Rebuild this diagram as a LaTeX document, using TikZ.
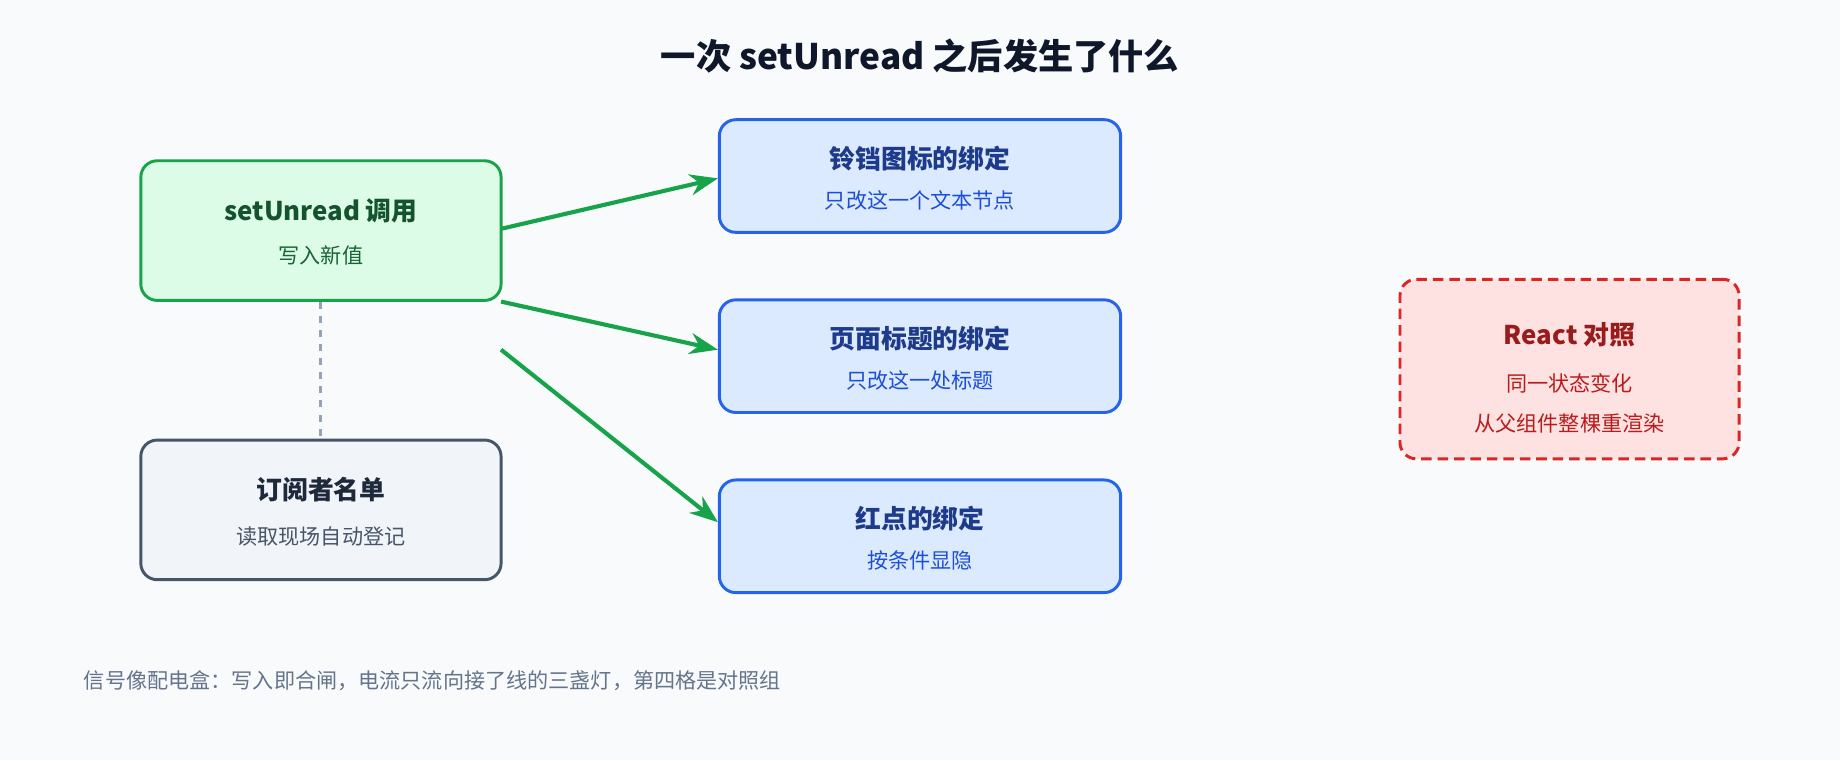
\documentclass[tikz,border=0pt]{standalone}
\usepackage{fontspec}
\setmainfont{Noto Sans CJK SC}
\usetikzlibrary{arrows.meta,positioning}
\definecolor{bgc}{HTML}{F8FAFC}
\definecolor{ink}{HTML}{0F172A}
\definecolor{gfill}{HTML}{DCFCE7}
\definecolor{gline}{HTML}{16A34A}
\definecolor{gtext}{HTML}{14532D}
\definecolor{gsub}{HTML}{166534}
\definecolor{sfill}{HTML}{F1F5F9}
\definecolor{sline}{HTML}{475569}
\definecolor{stext}{HTML}{1E293B}
\definecolor{bfill}{HTML}{DBEAFE}
\definecolor{bline}{HTML}{2563EB}
\definecolor{btext}{HTML}{1E3A8A}
\definecolor{bsub}{HTML}{1D4ED8}
\definecolor{rfill}{HTML}{FEE2E2}
\definecolor{rline}{HTML}{DC2626}
\definecolor{rtext}{HTML}{991B1B}
\definecolor{rsub}{HTML}{B91C1C}
\definecolor{note}{HTML}{64748B}
\definecolor{dashc}{HTML}{94A3B8}
\tikzset{
    box/.style={draw, line width=2.5pt, rounded corners=14pt, inner sep=0pt},
    ttl/.style={font=\fontsize{22}{26}\selectfont\bfseries},
    sub/.style={font=\fontsize{18}{22}\selectfont},
    flow/.style={-{Stealth[length=24pt,width=18pt]}, line width=3.5pt, gline}
}
\begin{document}
\begin{tikzpicture}[x=1pt,y=-1pt]
    \fill[bgc] (0,0) rectangle (1568,648);
    \useasboundingbox (0,0) rectangle (1568,648);
    \node[font=\fontsize{30}{34}\selectfont\bfseries, text=ink] (title) at (784,48) {一次 setUnread 之后发生了什么};
    % left column
    \node[box, fill=gfill, draw=gline, minimum width=307pt, minimum height=119pt] (call) at (273.5,196.5) {};
    \node[ttl, text=gtext] (callT) at (273.5,180) {setUnread 调用};
    \node[sub, text=gsub] (callS) at (273.5,218) {写入新值};
    \node[box, fill=sfill, draw=sline, minimum width=307pt, minimum height=119pt] (subs) at (273.5,434.5) {};
    \node[ttl, text=stext] (subsT) at (273.5,417) {订阅者名单};
    \node[sub, text=sline] (subsS) at (273.5,457) {读取现场自动登记};
    \draw[dashc, line width=2.5pt, dash pattern=on 6pt off 6pt] (call.south) -- (subs.north);
    % bindings
    \foreach \n/\y/\t/\s in {bell/150/铃铛图标的绑定/只改这一个文本节点,
                            page/303.5/页面标题的绑定/只改这一处标题,
                            dot/457/红点的绑定/按条件显隐}{
        \node[box, fill=bfill, draw=bline, minimum width=342pt, minimum height=96pt] (\n) at (784,\y) {};
        \node[ttl, text=btext] (\n T) at (784,\y-15) {\t};
        \node[sub, text=bsub] (\n S) at (784,\y+21) {\s};
    }
    \coordinate (o1) at (427,195);
    \coordinate (o2) at (427,257);
    \coordinate (o3) at (427,298);
    \draw[flow] (o1) -- (bell.west |- 0,152);
    \draw[flow] (o2) -- (page.west |- 0,298);
    \draw[flow] (o3) -- (dot.west |- 0,445);
    % react
    \node[box, fill=rfill, draw=rline, dash pattern=on 9pt off 5pt, minimum width=289pt, minimum height=153pt] (react) at (1337.5,314.5) {};
    \node[ttl, text=rtext] (reactT) at (1337.5,285) {React 对照};
    \node[sub, text=rsub] (reactA) at (1337.5,327) {同一状态变化};
    \node[sub, text=rsub] (reactB) at (1337.5,361) {从父组件整棵重渲染};
    \node[sub, text=note, anchor=west] (foot) at (68,580) {信号像配电盒：写入即合闸，电流只流向接了线的三盏灯，第四格是对照组};
\end{tikzpicture}
\end{document}
